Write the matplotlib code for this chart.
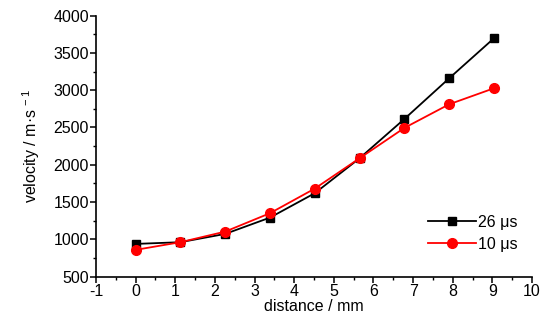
import numpy as np
import matplotlib
matplotlib.use("Agg")
import matplotlib.pyplot as plt
from matplotlib.ticker import MultipleLocator

plt.rcParams['font.family'] = ['Liberation Sans', 'DejaVu Sans']
plt.rcParams['axes.unicode_minus'] = False
plt.rcParams['mathtext.default'] = 'regular'

distance = [0, 1.13, 2.26, 3.39, 4.52, 5.65, 6.78, 7.91, 9.04]
v_26us = [938, 961, 1072, 1291, 1618, 2087, 2614, 3160, 3697]
v_10us = [858, 961, 1103, 1350, 1680, 2087, 2494, 2811, 3026]

fig = plt.figure(figsize=(5.48, 3.25), dpi=100)
ax = fig.add_axes([0.175, 0.149, 0.796, 0.803])

ax.plot(distance, v_26us, color="black", marker="s", markersize=6, lw=1.3, label="26 μs")
ax.plot(distance, v_10us, color="red", marker="o", markersize=7, lw=1.3, label="10 μs")

ax.set_xlim(-1, 10)
ax.set_ylim(500, 4000)
ax.xaxis.set_major_locator(MultipleLocator(1))
ax.xaxis.set_minor_locator(MultipleLocator(0.5))
ax.yaxis.set_major_locator(MultipleLocator(500))
ax.yaxis.set_minor_locator(MultipleLocator(250))

for s in ["top", "right"]:
    ax.spines[s].set_visible(False)
for s in ["left", "bottom"]:
    ax.spines[s].set_linewidth(1.2)

ax.tick_params(which="major", direction="out", length=4, width=1.1, labelsize=11.5, pad=1)
ax.tick_params(which="minor", direction="out", length=2.5, width=1.0)

ax.set_xlabel("distance / mm", fontsize=11.5, labelpad=0)
ax.set_ylabel("velocity / m·s$^{\\,-1}$", fontsize=11.5, labelpad=8)

ax.legend(loc="lower right", bbox_to_anchor=(1.0, 0.04), frameon=False, fontsize=11.5,
          handlelength=3.0, handletextpad=0.15, labelspacing=0.45)

fig.savefig("out.png", dpi=100)
